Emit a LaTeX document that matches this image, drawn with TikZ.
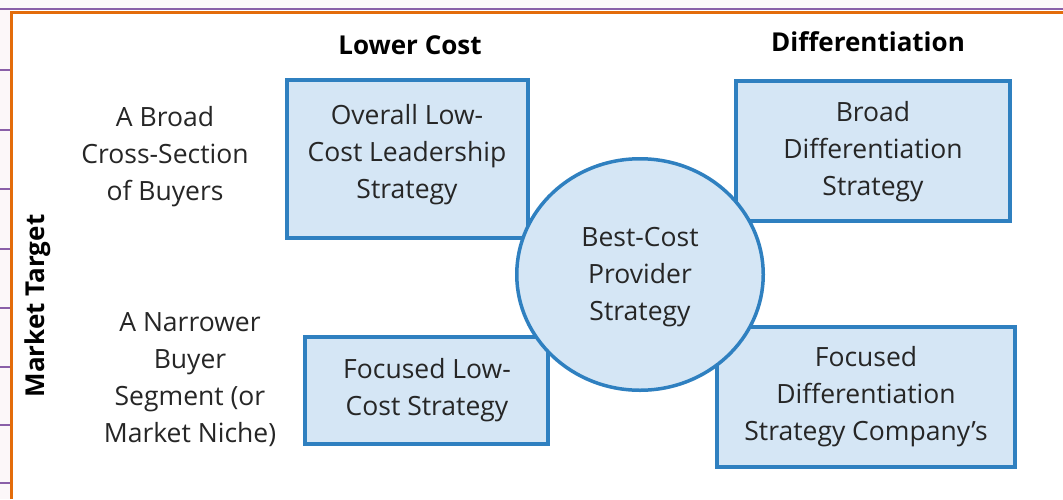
\documentclass[tikz,border=0pt]{standalone}
\usepackage{fontspec}
\usetikzlibrary{shapes.geometric}
\setmainfont{Open Sans}
\definecolor{boxfill}{HTML}{D5E6F5}
\definecolor{boxline}{HTML}{2F80C0}
\definecolor{orangeline}{HTML}{E36C0A}
\definecolor{purpleline}{HTML}{8A5FA8}
\definecolor{strip}{HTML}{FCF7F9}
\tikzset{
  stratbox/.style={draw=boxline, fill=boxfill, line width=3.5pt},
  body/.style={align=center, font=\fontsize{26.5}{37}\selectfont, text=black!85},
  head/.style={font=\fontsize{26}{30}\selectfont\bfseries, text=black},
}
\begin{document}
\begin{tikzpicture}[x=1pt,y=-1pt]
\useasboundingbox (0,0) rectangle (1063,499);
\fill[white] (0,0) rectangle (1063,499);
\fill[strip] (0,0) rectangle (1063,10);
\fill[strip] (0,0) rectangle (10,499);
% purple lines
\draw[purpleline, line width=1.5pt] (0,9) -- (1063,9);
\foreach \yy in {70,130,189,249,308,367,425,483}
  \draw[purpleline, line width=1.5pt] (0,\yy) -- (10,\yy);
% orange border
\draw[orangeline, line width=3pt] (11,499) -- (11,12.5) -- (1063,12.5);
% boxes
\draw[stratbox] (287,80) rectangle (528,238);
\draw[stratbox] (736,81) rectangle (1010,221);
\draw[stratbox] (305,337) rectangle (548,444);
\draw[stratbox] (717,327) rectangle (1015,467);
\node[draw=boxline, fill=boxfill, line width=3.5pt, ellipse, minimum width=246.5pt, minimum height=231.5pt, inner sep=0pt] (best) at (640,274.5) {};
% texts
\node[body] (overall) at (407,155) {Overall Low-\\Cost Leadership\\Strategy};
\node[body] (broad) at (873,152) {Broad\\Differentiation\\Strategy};
\node[body] (focuslow) at (427,390) {Focused Low-\\Cost Strategy};
\node[body] (focusdiff) at (866,397) {Focused\\Differentiation\\Strategy Company’s};
\node[body] (besttext) at (640,277) {Best-Cost\\Provider\\Strategy};
\node[body] (broadbuyers) at (165,157) {A Broad\\Cross-Section\\of Buyers};
\node[body] (narrow) at (190,380) {A Narrower\\Buyer\\Segment (or\\Market Niche)};
\node[head] (lower) at (410,45) {Lower Cost};
\node[head] (diff) at (868,42) {Differentiation};
\node[head, rotate=90] (market) at (38,306) {Market Target};
\end{tikzpicture}
\end{document}
